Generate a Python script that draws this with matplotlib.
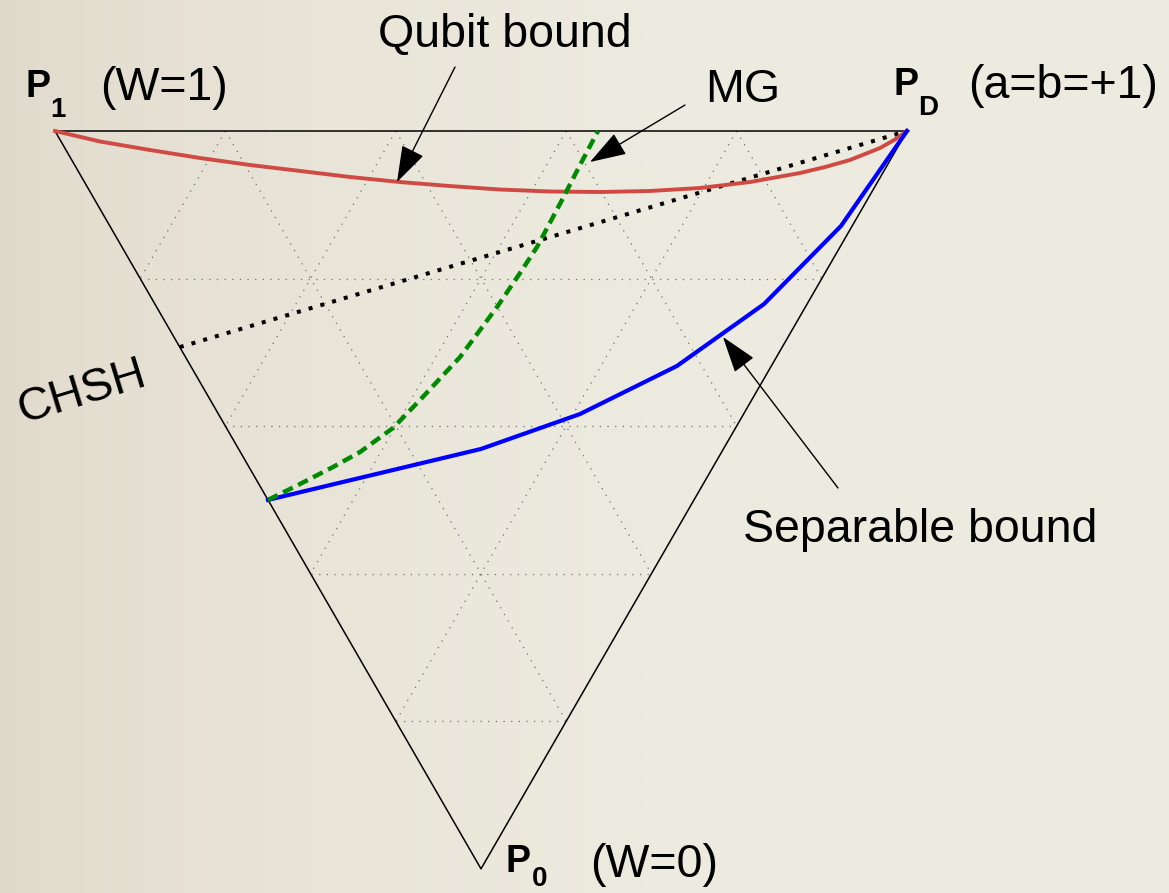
import numpy as np
import matplotlib
matplotlib.use("Agg")
import matplotlib.pyplot as plt

# Triangle frame: P1 at (0, 0), PD at (1, 0), P0 at (0.5, -sqrt(3)/2)
H = np.sqrt(3) / 2
P1 = (0.0, 0.0)
PD = (1.0, 0.0)
P0 = (0.5, -H)
N_GRID = 5

# Qubit bound (red curve)
qubit_x = [0.0, 0.0528, 0.1115, 0.1702, 0.2289, 0.2876, 0.3462, 0.4049, 0.4636,
           0.5223, 0.5810, 0.6397, 0.6984, 0.7570, 0.8157, 0.8744, 0.9038, 0.9331,
           0.9683, 0.9859, 1.0]
qubit_y = [0.0, -0.0123, -0.0223, -0.0317, -0.0399, -0.0469, -0.0540, -0.0599, -0.0646,
           -0.0687, -0.0710, -0.0716, -0.0704, -0.0669, -0.0599, -0.0493, -0.0423, -0.0340,
           -0.0200, -0.0100, 0.0]

# MG bound (green dashed)
mg_x = [0.2500, 0.2876, 0.3263, 0.3580, 0.3967, 0.4284, 0.4754, 0.5188, 0.5458,
        0.5657, 0.5951, 0.6162, 0.6373]
mg_y = [-0.4330, -0.4143, -0.3944, -0.3768, -0.3486, -0.3157, -0.2653, -0.2066, -0.1667,
        -0.1362, -0.0810, -0.0399, 0.0]

# Separable bound (blue)
sep_x = [0.2500, 0.5000, 0.6162, 0.7300, 0.8322, 0.9225, 1.0]
sep_y = [-0.4330, -0.3732, -0.3322, -0.2758, -0.2031, -0.1115, 0.0]

# CHSH line: from the P1-P0 edge at fraction 1 - 1/sqrt(2) to PD
chsh_t = 1 - 1 / np.sqrt(2)
chsh_x = [0.5 * chsh_t, 1.0]
chsh_y = [-H * chsh_t, 0.0]

plt.rcParams["lines.scale_dashes"] = False
plt.rcParams["font.family"] = ["Liberation Sans", "DejaVu Sans"]

fig = plt.figure(figsize=(11.69, 8.93), dpi=100)
ax = fig.add_axes([0, 0, 1, 1])
xlim = (-55 / 852, 1114 / 852)
ylim = (-762 / 852, 131 / 852)
ax.set_xlim(*xlim)
ax.set_ylim(*ylim)
ax.set_aspect("equal")
ax.axis("off")

# Beige paper background, darker on the left
gx = np.linspace(0, 1, 400)
gy = np.linspace(0, 1, 300)
GX, GY = np.meshgrid(gx, gy)
left = np.array([223, 217, 202]) / 255
right = np.array([237, 234, 223]) / 255
w = np.clip(GX / 0.55, 0, 1) ** 0.6
bg = left[None, None, :] * (1 - w[..., None]) + right[None, None, :] * w[..., None]
ax.imshow(bg, extent=(xlim[0], xlim[1], ylim[0], ylim[1]), origin="upper",
          zorder=0, aspect="auto", interpolation="bilinear")

# Dotted grid inside the triangle
grid_kw = dict(color="#707070", lw=0.9, dashes=(0.9, 4.6), zorder=1)
for k in range(1, N_GRID):
    t = k / N_GRID
    ax.plot([0.5 * t, 1 - 0.5 * t], [-H * t, -H * t], **grid_kw)
    ax.plot([t, t + 0.5 * (1 - t)], [0, -H * (1 - t)], **grid_kw)
    ax.plot([t, 0.5 * t], [0, -H * t], **grid_kw)

# Triangle outline
tri = np.array([P1, PD, P0, P1])
ax.plot(tri[:, 0], tri[:, 1], color="black", lw=1.1, zorder=2)

ax.plot(chsh_x, chsh_y, color="black", lw=2.9, dashes=(2.9, 5.9),
        dash_capstyle="butt", zorder=3)
ax.plot(qubit_x, qubit_y, color="#d04a44", lw=2.8, zorder=4,
        solid_joinstyle="round")
ax.plot(sep_x, sep_y, color="#0000ff", lw=3.0, zorder=4)
ax.plot(mg_x, mg_y, color="#008a00", lw=3.2, dashes=(7.8, 4.3),
        dash_capstyle="butt", zorder=5)

arrow_kw = dict(arrowstyle="-|>,head_length=23,head_width=7.6",
                mutation_scale=1, color="black", lw=1.0,
                shrinkA=0, shrinkB=0)
ax.annotate("", xy=(0.4014, -0.0599), xytext=(0.4695, 0.0751), arrowprops=arrow_kw, zorder=6)
ax.annotate("", xy=(0.6279, -0.0364), xytext=(0.7394, 0.0305), arrowprops=arrow_kw, zorder=6)
ax.annotate("", xy=(0.7840, -0.2418), xytext=(0.9190, -0.4190), arrowprops=arrow_kw, zorder=6)

big = 33.5
ax.text(0.3791, 0.0986, "Qubit bound", fontsize=big, ha="left", va="baseline")
ax.text(0.7629, 0.0340, "MG", fontsize=big, ha="left", va="baseline")
ax.text(0.8075, -0.4824, "Separable bound", fontsize=big, ha="left", va="baseline")
ax.text(0.0317, -0.3063, "CHSH", fontsize=big, ha="center", va="center",
        rotation=17, rotation_mode="anchor")

pk = dict(fontsize=27, fontweight="bold", ha="left", va="baseline")
sk = dict(fontsize=20, fontweight="bold", ha="left", va="baseline")
ax.text(-0.0352, 0.0399, "P", **pk)
ax.text(-0.0059, 0.0164, "1", **sk)
ax.text(0.0528, 0.0364, "(W=1)", fontsize=big, ha="left", va="baseline")
ax.text(0.9836, 0.0423, "P", **pk)
ax.text(1.0129, 0.0188, "D", **sk)
ax.text(1.0716, 0.0387, "(a=b=+1)", fontsize=big, ha="left", va="baseline")
ax.text(0.5282, -0.8697, "P", **pk)
ax.text(0.5599, -0.8860, "0", **sk)
ax.text(0.6279, -0.8756, "(W=0)", fontsize=big, ha="left", va="baseline")

fig.savefig("out.png", dpi=100)
